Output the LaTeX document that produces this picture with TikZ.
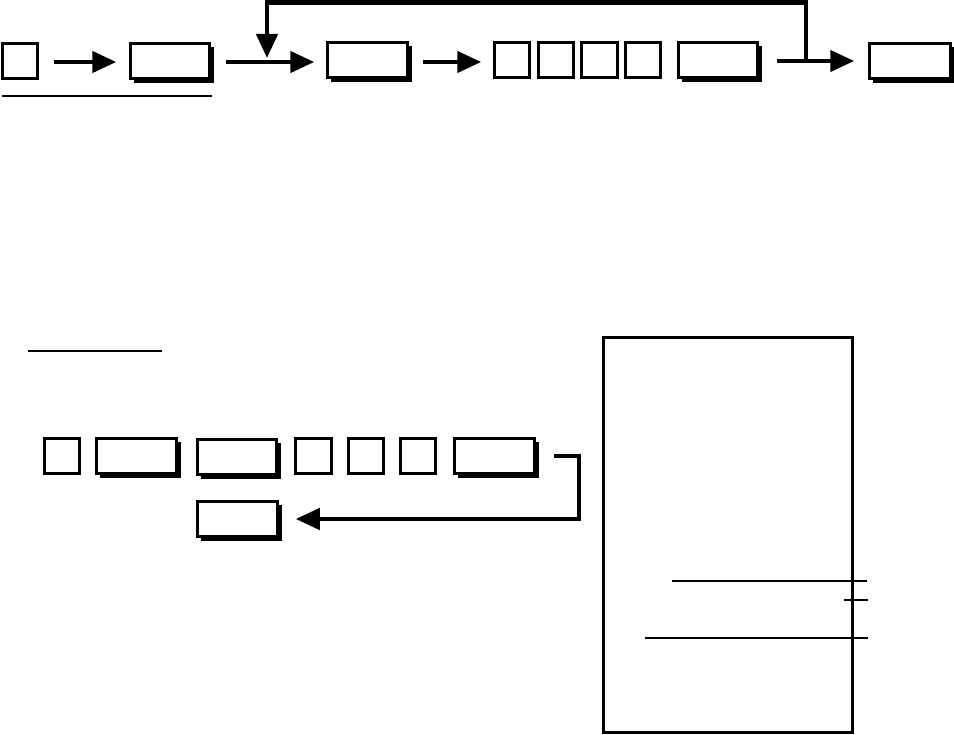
\documentclass[tikz,border=0pt]{standalone}
\usetikzlibrary{arrows.meta,shadows,calc}
\begin{document}
\begin{tikzpicture}[x=1pt,y=-1pt,
  plainbox/.style={draw=black, fill=white, line width=2.8pt, minimum height=35.2pt, inner sep=0pt, outer sep=0pt},
  sq/.style={plainbox, minimum width=35.5pt},
  wide/.style={plainbox, minimum width=79.5pt, drop shadow={shadow xshift=4pt, shadow yshift=-4pt, fill=black, opacity=1}},
  conn/.style={line width=4.5pt, -{Triangle[length=24pt,width=21pt]}},
  rule/.style={line width=2.2pt}
]
\useasboundingbox (0,0) rectangle (954,735);

% top row
\node[sq] (A) at (20,61) {};
\node[wide] (B) at (170,61) {};
\node[wide, minimum width=80.5pt] (C) at (367.5,60) {};
\node[sq] (s1) at (512,60) {};
\node[sq] (s2) at (556,60) {};
\node[sq] (s3) at (599.5,60) {};
\node[sq] (s4) at (643,60) {};
\node[wide] (D) at (718,60) {};
\node[wide, minimum width=81.5pt] (E) at (910,61) {};

\draw[conn] ([xshift=16pt,yshift=-1pt]A.east) -- ([xshift=-14pt,yshift=-1pt]B.west);
\draw[conn] ([xshift=16pt,yshift=-1pt]B.east) -- ([xshift=-13pt,yshift=-2pt]C.west);
\draw[conn] ([xshift=15pt,yshift=-2pt]C.east) -- ([xshift=-13pt,yshift=-2pt]s1.west);
\draw[conn] ([xshift=19pt,yshift=-1pt]D.east) -- ([xshift=-15pt]E.west);

% feedback loop
\coordinate (j1) at (806,61);
\coordinate (j2) at (267,58);
\coordinate (topline) at (0,2.5);
\draw[conn] (j1) -- (j1 |- topline) -- (j2 |- topline) -- (j2);

% top underline
\coordinate (u1) at (2,96);
\coordinate (u2) at (212,96);
\draw[rule] (u1) -- (u2);

% bottom section underline
\coordinate (u3) at (28,351);
\coordinate (u4) at (162,351);
\draw[rule] (u3) -- (u4);

% bottom row
\node[sq] (b1) at (62,456) {};
\node[wide, minimum width=80.5pt] (b2) at (136.5,456) {};
\node[wide] (b3) at (237,457) {};
\node[sq, minimum width=36.5pt] (b4) at (313.5,456) {};
\node[sq] (b5) at (366,456) {};
\node[sq] (b6) at (418,456) {};
\node[wide, minimum width=80.5pt] (b7) at (494.5,456) {};
\node[wide, minimum width=80.5pt] (b8) at (237.5,519) {};

\draw[conn] ([xshift=19pt]b7.east) -- ++(25,0) |- ([xshift=18pt]b8.east);

% right panel
\node[draw=black, line width=3.2pt, minimum width=249pt, minimum height=395pt, inner sep=0pt] (panel) at (728,535) {};
\coordinate (l1a) at (672,581); \coordinate (l1b) at (867,581);
\coordinate (l2a) at (844,600); \coordinate (l2b) at (868,600);
\coordinate (l3a) at (645,638); \coordinate (l3b) at (868,638);
\draw[rule] (l1a) -- (l1b);
\draw[rule] (l2a) -- (l2b);
\draw[rule] (l3a) -- (l3b);
\end{tikzpicture}
\end{document}
